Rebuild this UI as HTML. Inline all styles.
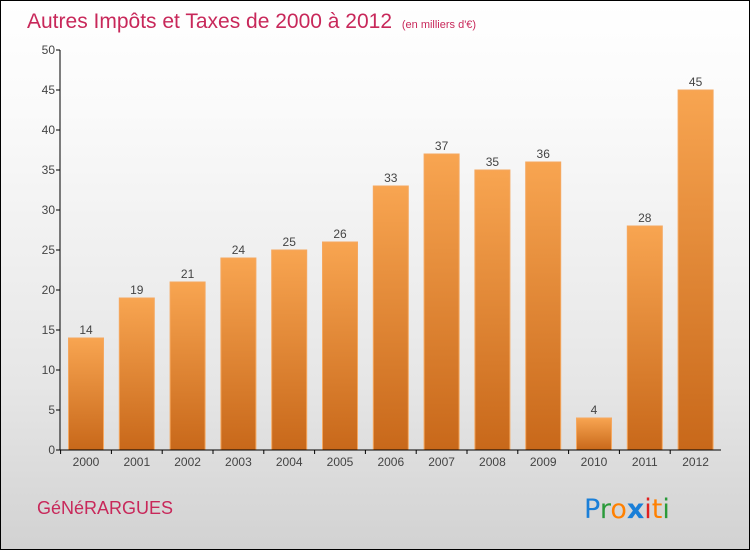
<!DOCTYPE html>
<html><head><meta charset="utf-8"><style>
body{margin:0}
#wrap{position:relative;width:748px;height:548px;border:1px solid #000;background:linear-gradient(#ffffff,#fafafa 20%,#e6e6e6 70%,#d2d2d2);font-family:"Liberation Sans",sans-serif;overflow:hidden}
</style></head><body>
<div id="wrap">
<svg id="c" width="748" height="548">
<defs><linearGradient id="bg" x1="0" y1="0" x2="0" y2="1"><stop offset="0" stop-color="#f8a551"/><stop offset="1" stop-color="#c8681a"/></linearGradient></defs>
<text x="26" y="27" font-size="21" fill="#c8285a">Autres Impôts et Taxes de 2000 à 2012 <tspan font-size="11" dx="4">(en milliers d'€)</tspan></text>
<text x="36" y="513" font-size="18" fill="#c8285a">GéNéRARGUES</text>
<g font-size="27" font-family="'DejaVu Sans',sans-serif">
<text x="583" y="517"><tspan fill="#1a7fd8">P</tspan><tspan fill="#2a9a3a">r</tspan><tspan fill="#ff8000">o</tspan><tspan fill="#1a7fd8" font-weight="bold">x</tspan><tspan fill="#e02020">i</tspan><tspan fill="#ff8000">t</tspan><tspan fill="#2a9a3a">i</tspan></text>
</g>
</svg>
</div>
<script>
const categories=["2000","2001","2002","2003","2004","2005","2006","2007","2008","2009","2010","2011","2012"];
const values=[14,19,21,24,25,26,33,37,35,36,4,28,45];
const yTicks=[0,5,10,15,20,25,30,35,40,45,50];
const svg=document.getElementById('c');const NS='http://www.w3.org/2000/svg';
const x0=59,y0=449,yMax=50,plotH=400,step=50.8,firstC=85,bw=35;
const y=v=>y0-v/yMax*plotH;const xc=i=>firstC+i*step;
function mk(t,a){const e=document.createElementNS(NS,t);for(const k in a)e.setAttribute(k,a[k]);svg.appendChild(e);return e;}
values.forEach((v,i)=>{
const r=mk('rect',{x:xc(i)-bw/2,y:y(v),width:bw,height:y0-y(v),fill:'url(#bg)',stroke:'#f5a860','stroke-width':1});


const t=mk('text',{x:xc(i),y:y(v)-4,'text-anchor':'middle','font-size':12,fill:'#444'});t.textContent=v;


const l=mk('text',{x:xc(i),y:y0+16,'text-anchor':'middle','font-size':12,fill:'#444'});l.textContent=categories[i];


mk('line',{x1:xc(i)-step/2,x2:xc(i)-step/2,y1:y0,y2:y0+4,stroke:'#000'});
});
yTicks.forEach(v=>{
mk('line',{x1:x0-4,x2:x0,y1:y(v),y2:y(v),stroke:'#000'});
const t=mk('text',{x:x0-5,y:y(v)+4,'text-anchor':'end','font-size':12,fill:'#444'});t.textContent=v;


});
const ya=mk('line',{x1:x0,x2:x0,y1:y(yMax),y2:y0,stroke:'#000'});


const xa=mk('line',{x1:x0,x2:720,y1:y0,y2:y0,stroke:'#000'});


</script>
</body></html>
